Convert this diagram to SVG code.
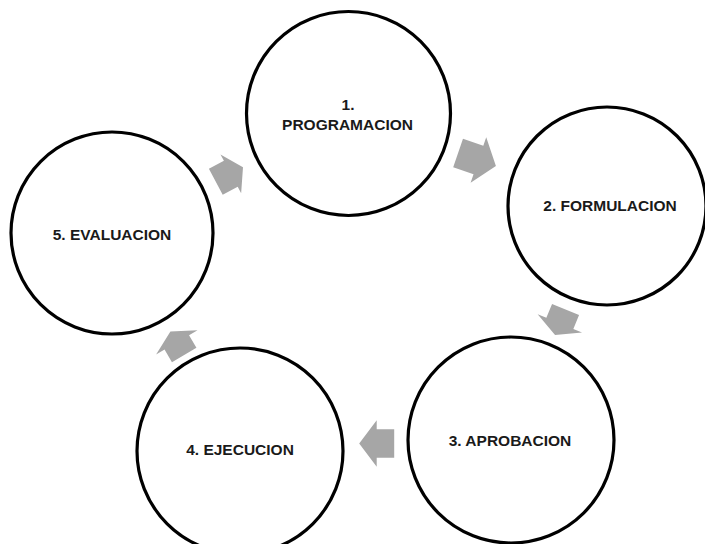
<svg xmlns="http://www.w3.org/2000/svg" width="705" height="544" viewBox="0 0 705 544">
<style>
.node circle{fill:#fff;stroke:#000;stroke-width:3.2}
.node text{font-family:"Liberation Sans",Arial,sans-serif;font-weight:bold;font-size:15.5px;fill:#1a1a1a;text-anchor:middle}
.arr{fill:#A6A6A6;stroke:none}
</style>
<rect width="705" height="544" fill="#fff"/>
<g id="connectors">
<path class="arr" transform="translate(477,159.5) rotate(19)" d="M-20,-15 L1.5,-15 L1.5,-24 L20,0 L1.5,24 L1.5,15 L-20,15 Z"/>
<path class="arr" transform="translate(560.3,322.3) rotate(112.4)" d="M-13.8,-14.6 L1.2,-14.6 L1.2,-24 L13.8,0 L1.2,24 L1.2,14.6 L-13.8,14.6 Z"/>
<path class="arr" transform="translate(376.7,443.5) rotate(180)" d="M-17.5,-14.2 L0,-14.2 L0,-23.3 L17.5,0 L0,23.3 L0,14.2 L-17.5,14.2 Z"/>
<path class="arr" transform="translate(177.3,343.3) rotate(-120.4)" d="M-13.6,-14.2 L1,-14.2 L1,-24 L13.6,0 L1,24 L1,14.2 L-13.6,14.2 Z"/>
<path class="arr" transform="translate(229.4,174.6) rotate(-28)" d="M-15.4,-14.7 L1.6,-14.7 L1.6,-22 L15.4,0 L1.6,22 L1.6,14.7 L-15.4,14.7 Z"/>
</g>
<g id="node1" class="node">
<circle cx="348.5" cy="113.5" r="102"/>
<text x="348" y="109.5">1.</text>
<text x="347.5" y="130">PROGRAMACION</text>
</g>
<g id="node2" class="node">
<circle cx="607" cy="206" r="99"/>
<text x="610" y="211">2. FORMULACION</text>
</g>
<g id="node3" class="node">
<circle cx="511" cy="440" r="103"/>
<text x="510" y="445.5">3. APROBACION</text>
</g>
<g id="node4" class="node">
<circle cx="240" cy="451" r="103"/>
<text x="240" y="455">4. EJECUCION</text>
</g>
<g id="node5" class="node">
<circle cx="112" cy="233" r="101"/>
<text x="112" y="240">5. EVALUACION</text>
</g>
</svg>
